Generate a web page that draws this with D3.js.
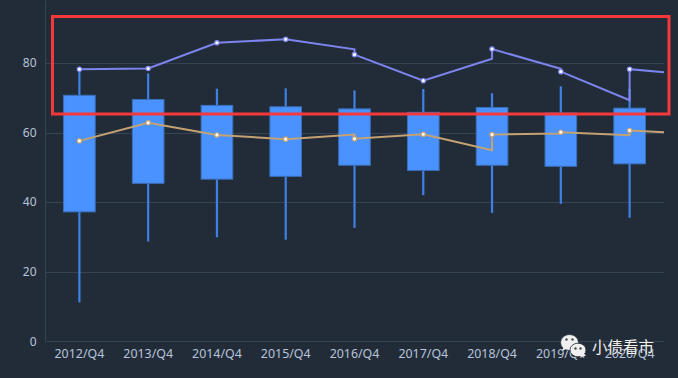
<!DOCTYPE html>
<html>
<head>
<meta charset="utf-8">
<script src="https://cdn.jsdelivr.net/npm/d3@7"></script>
<style>
  html, body { margin: 0; padding: 0; background: #222c39; }
  svg { display: block; }
  text { font-family: "Noto Sans", "Open Sans", sans-serif; }
</style>
</head>
<body>
<svg id="chart" width="678" height="378"></svg>
<script>
const categories = ["2012/Q4", "2013/Q4", "2014/Q4", "2015/Q4", "2016/Q4", "2017/Q4", "2018/Q4", "2019/Q4", "2020/Q4"]
const yTicks = [0, 20, 40, 60, 80]

// box and whisker values
const boxTop = [70.7, 69.5, 67.8, 67.4, 66.8, 65.8, 67.2, 65.6, 67.0]
const boxBottom = [37.2, 45.4, 46.6, 47.4, 50.6, 49.1, 50.6, 50.3, 51.0]
const whiskerHigh = [78.2, 77.0, 72.6, 72.7, 72.1, 72.5, 71.3, 73.3, 72.5]
const whiskerLow = [11.2, 28.7, 29.9, 29.2, 32.6, 42.0, 36.9, 39.5, 35.5]

// the lines reach some categories at one value and carry on from another
const purpleArrive = [78.2, 78.4, 85.8, 86.8, 83.9, 74.9, 81.2, 78.3, 69.3]
const purpleValue = [78.2, 78.4, 85.8, 86.8, 82.4, 74.9, 84.0, 77.5, 78.2]
const purpleEnd = 77.3
const tanArrive = [57.6, 62.8, 59.3, 58.1, 59.4, 59.5, 54.9, 59.7, 59.2]
const tanValue = [57.6, 62.8, 59.3, 58.1, 58.2, 59.5, 59.4, 60.1, 60.6]
const tanEnd = 60.1

const bgColor = "#222c39"
const gridColor = "#364354"
const labelColor = "#b7c3d8"
const boxFill = "#4992ff"
const boxStroke = "#3a70b8"
const whiskerColor = "#3f80e6"
const purple = "#7e84ee"
const tan = "#c4a272"
const red = "#f5383b"

const margin = { top: 0, right: 14, bottom: 37, left: 45 }
const width = 678, height = 378

const svg = d3.select("#chart")

const xScale = d3.scaleBand()
    .domain(categories)
    .range([margin.left, width - margin.right])

const yScale = d3.scaleLinear()
    .domain([0, 98])
    .range([height - margin.bottom + 0.3, margin.top + 0.3])

const center = c => xScale(c) + xScale.bandwidth() / 2

// grid
svg.append("g")
    .selectAll("line")
    .data(yTicks)
    .enter()
    .append("line")
        .attr("x1", margin.left)
        .attr("x2", width - margin.right)
        .attr("y1", d => Math.round(yScale(d)) + 0.5)
        .attr("y2", d => Math.round(yScale(d)) + 0.5)
        .attr("stroke", gridColor)

// axes
const yAxis = svg.append("g")
    .attr("transform", `translate(${margin.left}, 0)`)
    .call(d3.axisLeft(yScale).tickValues(yTicks).tickSize(0).tickPadding(8.5))
yAxis.select(".domain").attr("stroke", gridColor)
yAxis.selectAll("text").attr("fill", labelColor).attr("font-size", 12)

const xAxis = svg.append("g")
    .attr("transform", `translate(0, ${height - margin.bottom})`)
    .call(d3.axisBottom(xScale).tickSize(0).tickPadding(8))
xAxis.select(".domain").remove()
xAxis.selectAll("text").attr("fill", labelColor).attr("font-size", 12.4)

// whiskers
svg.append("g")
    .selectAll("line")
    .data(categories)
    .enter()
    .append("line")
        .attr("x1", d => center(d))
        .attr("x2", d => center(d))
        .attr("y1", (d, i) => yScale(whiskerHigh[i]))
        .attr("y2", (d, i) => yScale(whiskerLow[i]))
        .attr("stroke", whiskerColor)
        .attr("stroke-width", 2.2)

// boxes
const boxWidth = xScale.bandwidth() * 0.46
svg.append("g")
    .selectAll("rect")
    .data(categories)
    .enter()
    .append("rect")
        .attr("x", d => center(d) - boxWidth / 2)
        .attr("y", (d, i) => yScale(boxTop[i]))
        .attr("width", boxWidth)
        .attr("height", (d, i) => yScale(boxBottom[i]) - yScale(boxTop[i]))
        .attr("fill", boxFill)
        .attr("stroke", boxStroke)

const lineGen = d3.line().x(d => d[0]).y(d => yScale(d[1]))

const drawSeries = function(arrive, value, end, color) {
    const path = []
    categories.forEach((c, i) => {
        path.push([center(c), arrive[i]])
        path.push([center(c), value[i]])
    })
    path.push([xScale.range()[1], end])

    svg.append("path")
        .attr("d", lineGen(path))
        .attr("fill", "none")
        .attr("stroke", color)
        .attr("stroke-width", 2)

    svg.append("g")
        .selectAll("circle")
        .data(categories)
        .enter()
        .append("circle")
            .attr("cx", d => center(d))
            .attr("cy", (d, i) => yScale(value[i]))
            .attr("r", 2.2)
            .attr("fill", "#fff")
            .attr("stroke", color)
            .attr("stroke-width", 1.2)
}

drawSeries(tanArrive, tanValue, tanEnd, tan)
drawSeries(purpleArrive, purpleValue, purpleEnd, purple)

// red highlight box
svg.append("rect")
    .attr("x", 52.5)
    .attr("y", 16.5)
    .attr("width", 616.5)
    .attr("height", 97.5)
    .attr("fill", "none")
    .attr("stroke", red)
    .attr("stroke-width", 3)

// watermark
const mark = svg.append("g")
const bubble = function(cx, cy, rx, ry, tailX, tailY) {
    mark.append("ellipse")
        .attr("cx", cx).attr("cy", cy).attr("rx", rx).attr("ry", ry)
        .attr("fill", "#f0f0f0").attr("stroke", bgColor).attr("stroke-width", 0.8)
    mark.append("path")
        .attr("d", `M${tailX},${tailY}l-2,5l6,-3z`)
        .attr("fill", "#f0f0f0")
}
bubble(569.5, 342.5, 9, 8, 564, 346)
bubble(578, 350, 8, 6.8, 582, 353)
mark.selectAll(".eye")
    .data([[566.5, 339.5], [572.5, 339.5], [575.5, 348.5], [580.5, 348.5]])
    .enter()
    .append("circle")
        .attr("cx", d => d[0])
        .attr("cy", d => d[1])
        .attr("r", 1.2)
        .attr("fill", "#4a4a4a")

mark.append("text")
    .attr("x", 592)
    .attr("y", 353)
    .attr("fill", "#f2f2f2")
    .attr("stroke", "#2a2a2a")
    .attr("stroke-width", 0.4)
    .attr("paint-order", "stroke")
    .style("font-family", '"Noto Sans CJK SC", sans-serif')
    .attr("font-size", 15.5)
    .text("小债看市")
</script>
</body>
</html>
